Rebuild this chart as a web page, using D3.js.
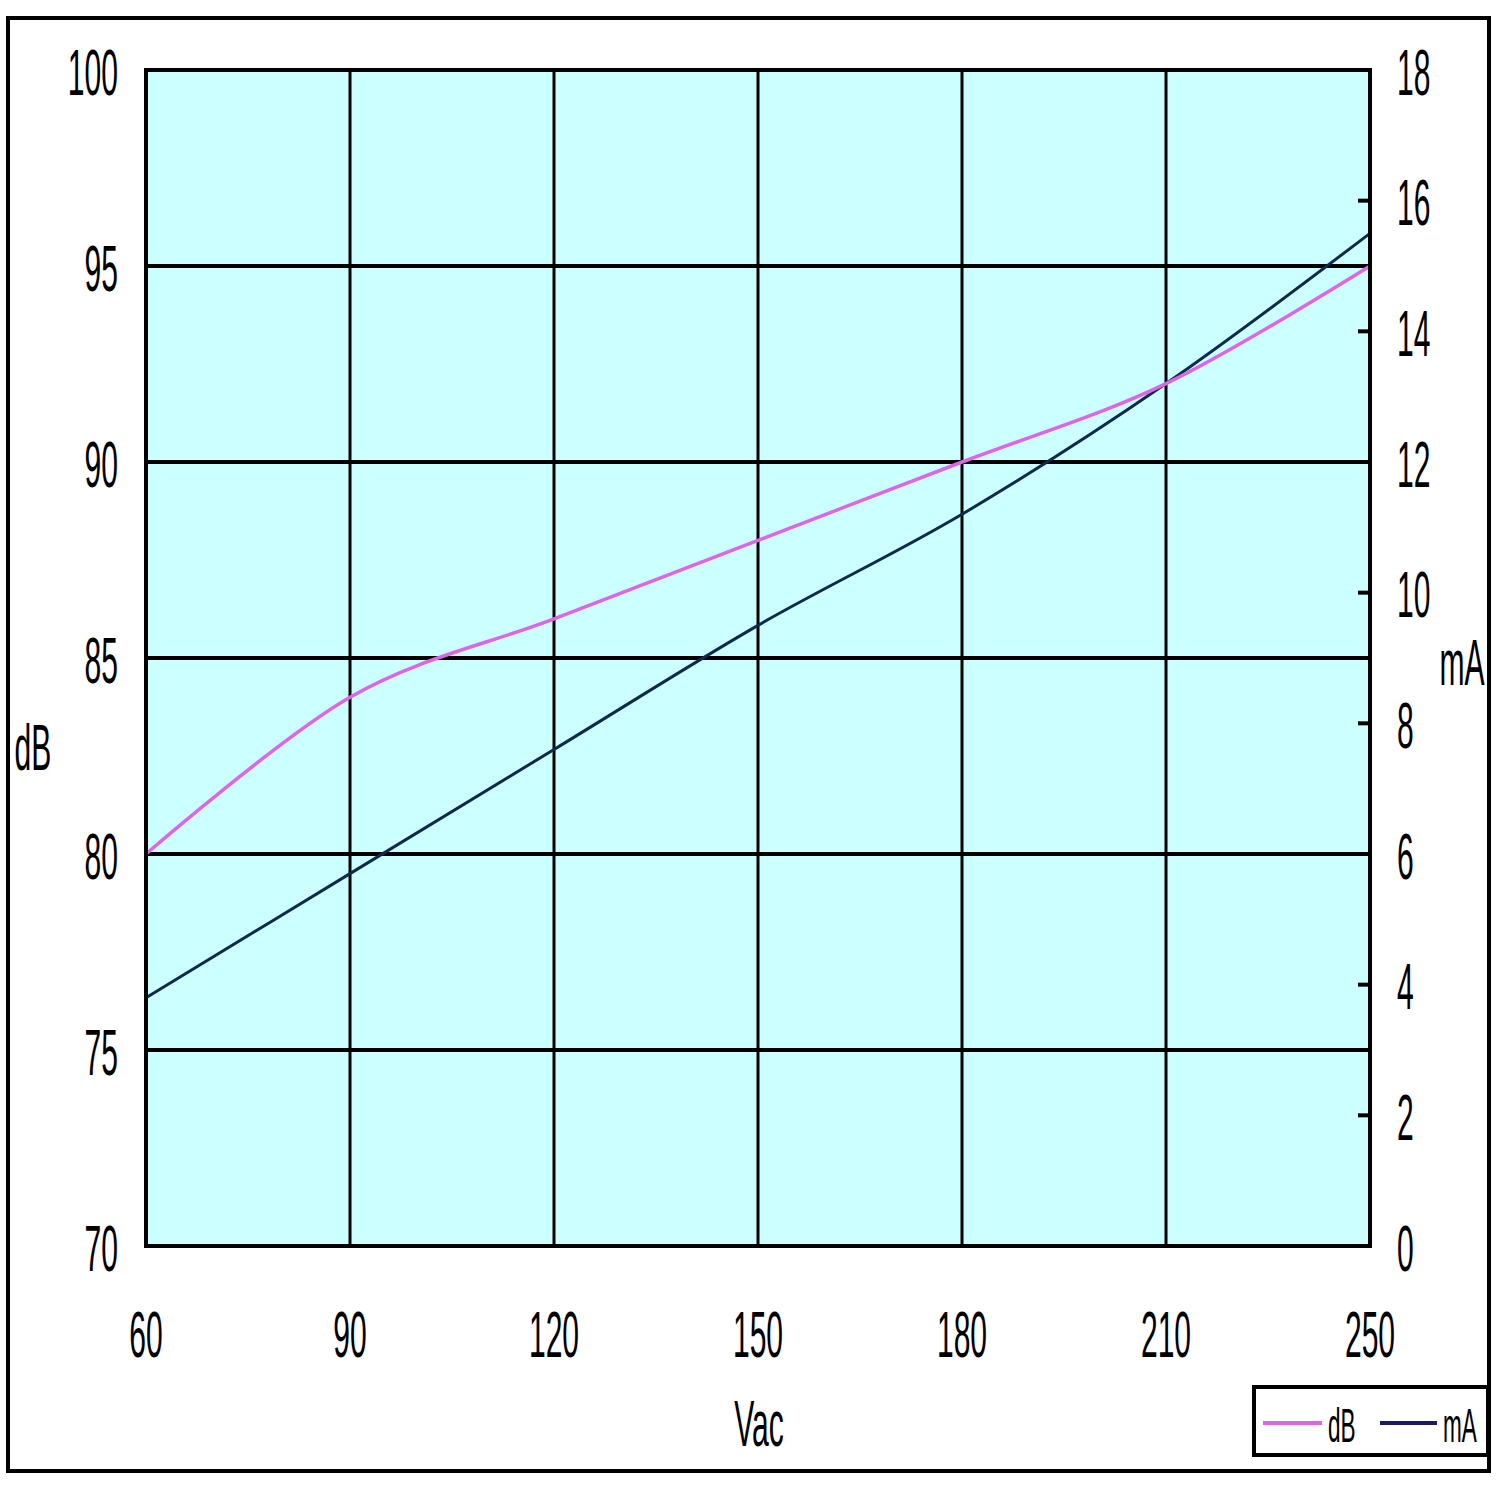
<!DOCTYPE html>
<html><head><meta charset="utf-8">
<script src="https://cdn.jsdelivr.net/npm/d3@7"></script>
<style>body{margin:0;background:#fff}text{font-family:"Liberation Sans",Arial,sans-serif;fill:#000}</style>
</head><body>
<script>
const categories = ["60","90","120","150","180","210","250"];
const dbValues = [80, 84, 86, 88, 90, 92, 95];
const maValues = [3.8, 5.7, 7.6, 9.5, 11.2, 13.2, 15.5];
const dbTicks = [70, 75, 80, 85, 90, 95, 100];
const maTicks = [0, 2, 4, 6, 8, 10, 12, 14, 16, 18];

const W = 1500, H = 1500;
const L = 146, R = 1370, T = 70, B = 1246;
const svg = d3.select("body").append("svg").attr("width", W).attr("height", H);

const x = d3.scalePoint().domain(categories).range([L, R]);
const yDb = d3.scaleLinear().domain([70, 100]).range([B, T]);
const yMa = d3.scaleLinear().domain([0, 18]).range([B, T]);

const SX = 0.47;
function label(g, tx, ty, txt, size, anchor) {
  g.append("text").attr("transform", `translate(${tx},${ty}) scale(${SX},1)`)
    .attr("font-size", size).attr("text-anchor", anchor).attr("dominant-baseline", "central").text(txt);
}

// outer border
svg.append("rect").attr("x", 8).attr("y", 18).attr("width", 1481).attr("height", 1453)
  .attr("fill", "#fff").attr("stroke", "#000").attr("stroke-width", 4);

// plot bg
svg.append("rect").attr("x", L).attr("y", T).attr("width", R - L).attr("height", B - T).attr("fill", "#CCFFFF");

// gridlines
const g = svg.append("g");
g.selectAll("line.h").data(dbTicks).join("line")
  .attr("x1", L).attr("x2", R).attr("y1", d => yDb(d)).attr("y2", d => yDb(d))
  .attr("stroke", "#000").attr("stroke-width", 4);
g.selectAll("line.v").data(categories).join("line")
  .attr("y1", T).attr("y2", B).attr("x1", d => x(d)).attr("x2", d => x(d))
  .attr("stroke", "#000").attr("stroke-width", 3);
// right axis ticks
g.selectAll("line.rt").data(maTicks).join("line")
  .attr("x1", R - 12).attr("x2", R).attr("y1", d => yMa(d)).attr("y2", d => yMa(d))
  .attr("stroke", "#000").attr("stroke-width", 4);

// lines
const curve = d3.curveCardinal.tension(0);
const lineDb = d3.line().x((d, i) => x(categories[i])).y(d => yDb(d)).curve(curve);
const lineMa = d3.line().x((d, i) => x(categories[i])).y(d => yMa(d)).curve(curve);
svg.append("path").attr("d", lineMa(maValues)).attr("fill", "none").attr("stroke", "#0d2a4a").attr("stroke-width", 3);
svg.append("path").attr("d", lineDb(dbValues)).attr("fill", "none").attr("stroke", "#dd66e6").attr("stroke-width", 3.5);

// plot border
svg.append("rect").attr("x", L).attr("y", T).attr("width", R - L).attr("height", B - T)
  .attr("fill", "none").attr("stroke", "#000").attr("stroke-width", 4);

// tick labels
const t = svg.append("g");
dbTicks.forEach(d => label(t, 118, yDb(d) + 3, d, 64, "end"));
maTicks.forEach(d => label(t, 1397, yMa(d) + 3, d, 64, "start"));
categories.forEach(c => label(t, x(c), 1335, c, 64, "middle"));

// axis titles
label(t, 759, 1424, "Vac", 64, "middle");
label(t, 33, 748, "dB", 64, "middle");
label(t, 1462, 663, "mA", 64, "middle");

// legend
svg.append("rect").attr("x", 1254).attr("y", 1387).attr("width", 234).attr("height", 68)
  .attr("fill", "#fff").attr("stroke", "#000").attr("stroke-width", 4);
svg.append("line").attr("x1", 1263).attr("x2", 1322).attr("y1", 1423).attr("y2", 1423)
  .attr("stroke", "#dd66e6").attr("stroke-width", 4);
label(svg, 1328, 1425, "dB", 48, "start");
svg.append("line").attr("x1", 1380).attr("x2", 1437).attr("y1", 1423).attr("y2", 1423)
  .attr("stroke", "#1a1a5e").attr("stroke-width", 4);
label(svg, 1443, 1425, "mA", 48, "start");
</script>
</body></html>
